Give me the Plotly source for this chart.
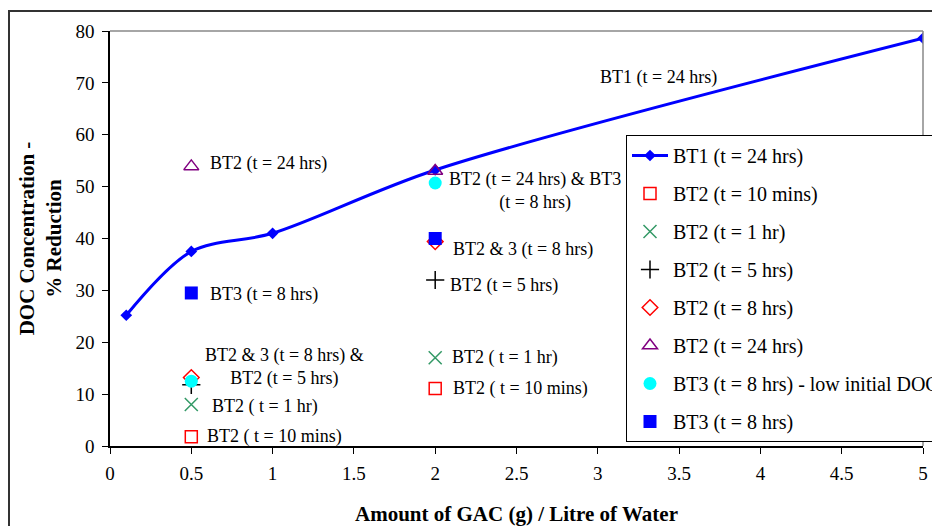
import plotly.graph_objects as go

# ---- data ----
bt1_x = [0.1, 0.5, 1, 2, 5]
bt1_y = [25.2, 37.5, 41.0, 53.2, 78.6]

bt2_10min_x = [0.5, 2]
bt2_10min_y = [1.8, 11.1]
bt2_1hr_x = [0.5, 2]
bt2_1hr_y = [8.0, 17.0]
bt2_5hr_x = [0.5, 2]
bt2_5hr_y = [11.8, 32.0]
bt2_8hr_x = [0.5, 2]
bt2_8hr_y = [13.2, 39.4]
bt2_24hr_x = [0.5, 2]
bt2_24hr_y = [53.9, 53.0]
bt3_low_x = [0.5, 2]
bt3_low_y = [12.5, 50.7]
bt3_8hr_x = [0.5, 2]
bt3_8hr_y = [29.5, 40.0]

x_ticks = [0, 0.5, 1, 1.5, 2, 2.5, 3, 3.5, 4, 4.5, 5]
y_ticks = [0, 10, 20, 30, 40, 50, 60, 70, 80]

# label texts with their anchor positions (data coords)
labels = [
    ("BT1 (t = 24 hrs)", 3.0, 71.1, "left"),
    ("BT2 (t = 24 hrs)", 0.603, 54.4, "left"),
    ("BT3 (t = 8 hrs)", 0.603, 29.3, "left"),
    ("BT2 &amp; 3 (t = 8 hrs) &amp;<br>BT2 (t = 5 hrs)", 1.076, 15.3, "center"),
    ("BT2 ( t = 1 hr)", 0.615, 7.7, "left"),
    ("BT2 ( t = 10 mins)", 0.584, 1.9, "left"),
    ("BT2 (t = 24 hrs) &amp; BT3<br>(t = 8 hrs)", 2.614, 49.1, "center"),
    ("BT2 &amp; 3 (t = 8 hrs)", 2.097, 37.8, "left"),
    ("BT2 (t = 5 hrs)", 2.079, 31.0, "left"),
    ("BT2 ( t = 1 hr)", 2.091, 17.0, "left"),
    ("BT2 ( t = 10 mins)", 2.097, 11.0, "left"),
]

SERIF = "Liberation Serif"

fig = go.Figure()
fig.add_trace(go.Scatter(
    x=bt1_x, y=bt1_y, mode="lines+markers", name="BT1 (t = 24 hrs)",
    line=dict(color="#0000FF", width=3, shape="spline", smoothing=0.9),
    marker=dict(symbol="diamond", size=9, color="#0000FF"), legendgroup="a"))
fig.add_trace(go.Scatter(
    x=bt2_10min_x, y=bt2_10min_y, mode="markers", name="BT2 (t = 10 mins)",
    marker=dict(symbol="square-open", size=12, color="#FF0000", line=dict(width=1.5)),
    legendgroup="b"))
fig.add_trace(go.Scatter(
    x=bt2_1hr_x, y=bt2_1hr_y, mode="markers", name="BT2 (t = 1 hr)",
    marker=dict(symbol="x-thin", size=13, color="#339966", line=dict(width=1.5, color="#339966")),
    legendgroup="c"))
fig.add_trace(go.Scatter(
    x=bt2_5hr_x, y=bt2_5hr_y, mode="markers", name="BT2 (t = 5 hrs)",
    marker=dict(symbol="cross-thin", size=13, color="#000000", line=dict(width=1.5, color="#000000")),
    legendgroup="d"))
fig.add_trace(go.Scatter(
    x=bt2_8hr_x, y=bt2_8hr_y, mode="markers", name="BT2 (t = 8 hrs)",
    marker=dict(symbol="diamond-open", size=12, color="#FF0000", line=dict(width=1.5)),
    legendgroup="e"))
fig.add_trace(go.Scatter(
    x=bt2_24hr_x, y=bt2_24hr_y, mode="markers", name="BT2 (t = 24 hrs)",
    marker=dict(symbol="triangle-up-open", size=13, color="#800080", line=dict(width=1.5)),
    legendgroup="f"))
fig.add_trace(go.Scatter(
    x=bt3_low_x, y=bt3_low_y, mode="markers", name="BT3 (t = 8 hrs) - low initial DOC",
    marker=dict(symbol="circle", size=13, color="#00FFFF"),
    legendgroup="g"))
fig.add_trace(go.Scatter(
    x=bt3_8hr_x, y=bt3_8hr_y, mode="markers", name="BT3 (t = 8 hrs)",
    marker=dict(symbol="square", size=13, color="#0000FF"),
    legendgroup="h"))

for text, lx, ly, anchor in labels:
    fig.add_annotation(x=lx, y=ly, xref="x", yref="y", text=text, showarrow=False,
                       xanchor=anchor, yanchor="middle", align="center",
                       font=dict(family=SERIF, size=18, color="#000000"))

# the page body has an 8px margin, so the figure is drawn 8px in from the corner
W, H = 932, 518
L, R, T, B = 102, 17, 23, 80
pw, ph = W - L - R, H - T - B

# outer frame and plot-area border (decoration)
fig.add_shape(type="rect", xref="paper", yref="paper",
              x0=(1 - L) / pw, x1=(W + 20 - L) / pw,
              y0=(H - B - (H + 20)) / ph, y1=(H - B - 3) / ph,
              line=dict(color="#333333", width=2), layer="below")
fig.add_shape(type="line", xref="paper", yref="paper", x0=0, x1=1, y0=1, y1=1,
              line=dict(color="#888888", width=1.5))
fig.add_shape(type="line", xref="paper", yref="paper", x0=1, x1=1, y0=0, y1=1,
              line=dict(color="#888888", width=1.5))

fig.update_layout(
    width=W, height=H,
    margin=dict(l=L, r=R, t=T, b=B, autoexpand=False),
    paper_bgcolor="white", plot_bgcolor="white",
    font=dict(family=SERIF, color="#000000"),
    showlegend=True,
    legend=dict(x=(618 - L) / pw, y=(H - B - 127) / ph, xanchor="left", yanchor="top",
                bgcolor="white", bordercolor="#000000", borderwidth=1,
                font=dict(family=SERIF, size=20), tracegroupgap=9,
                itemsizing="trace", itemwidth=36),
    xaxis=dict(range=[0, 5], tickvals=x_ticks, ticks="outside", ticklen=6,
               tickcolor="#000000", showline=True, linecolor="#000000", linewidth=1.5,
               showgrid=False, zeroline=False, tickfont=dict(family=SERIF, size=19),
               ticklabelstandoff=3, automargin=False,
               title=dict(text="<b>Amount of GAC (g) / Litre of Water</b>",
                          font=dict(family=SERIF, size=21), standoff=24)),
    yaxis=dict(range=[0, 80], tickvals=y_ticks, ticks="outside", ticklen=6,
               tickcolor="#000000", showline=True, linecolor="#000000", linewidth=1.5,
               showgrid=False, zeroline=False, tickfont=dict(family=SERIF, size=19),
               ticklabelstandoff=4, automargin=False,
               title=dict(text="<b>DOC Concentration -<br>% Reduction</b>",
                          font=dict(family=SERIF, size=21), standoff=8)),
)

fig.write_html("out.html")
